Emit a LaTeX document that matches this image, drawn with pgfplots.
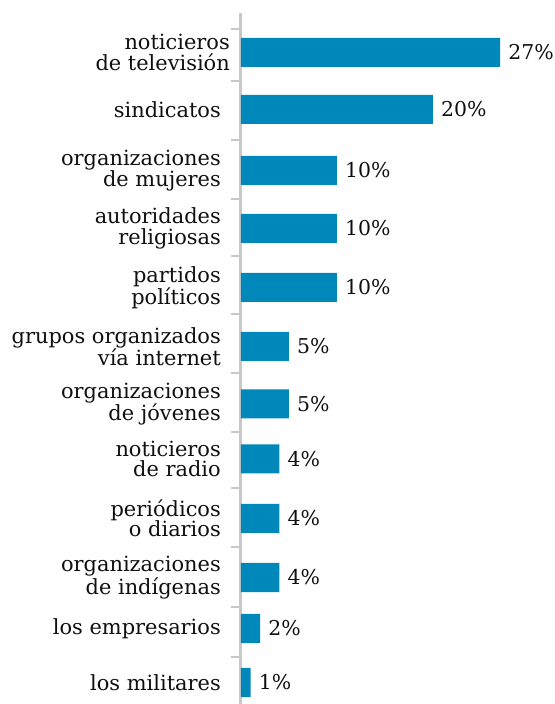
\documentclass[border=0pt]{standalone}
\usepackage{pgfplots}
\pgfplotsset{compat=1.18}
\usepackage{fontspec}
\setmainfont{DejaVu Serif}
\definecolor{barc}{RGB}{0,136,187}
\definecolor{axc}{RGB}{200,200,200}
\definecolor{txt}{RGB}{15,15,15}
\begin{document}
\begin{tikzpicture}
\useasboundingbox (-241bp,0bp) rectangle (314bp,704bp);
\begin{axis}[
  x=9.6bp, y=1bp,
  xmin=0, xmax=32.7, ymin=0, ymax=691,
  hide x axis,
  axis y line*=left,
  y axis line style={draw=axc, line width=3bp, -},
  tick style={draw=axc, line width=2bp},
  major tick length=0pt,
  ytick={651.5,594.5,533.5,475.5,416.5,357.5,300,245,185.5,126.5,75.5,21.5},
  yticklabels={{noticieros\hspace*{-9bp}\\de televisión\hspace*{-9bp}},
    sindicatos,
    {organizaciones\\de mujeres},
    {autoridades\\religiosas},
    {partidos\\políticos},
    {grupos organizados\\vía internet},
    {organizaciones\\de jóvenes},
    {noticieros\\de radio},
    {periódicos\\o diarios},
    {organizaciones\\de indígenas},
    los empresarios,
    los militares},
  yticklabel style={align=right, font=\fontsize{21}{20.5}\selectfont, text=txt, inner sep=0pt, xshift=-20bp},
  extra y ticks={675,623,564,505,448,390,331,272,216,157,97,47},
  extra y tick labels={},
  extra tick style={major tick length=10bp, tick align=outside},
  clip=false,
]
\addplot[xbar, bar width=29bp, fill=barc, draw=none,
  point meta=x,
  nodes near coords={\pgfmathprintnumber{\pgfplotspointmeta}\%},
  nodes near coords style={font=\fontsize{20.5}{21}\selectfont, text=txt, anchor=west, inner sep=0pt, xshift=8bp,
    /pgf/number format/assume math mode=true}]
  table {
x y
27 651.5
20 594.5
10 533.5
10 475.5
10 416.5
5 357.5
5 300
4 245
4 185.5
4 126.5
2 75.5
1 21.5
};
\end{axis}
\end{tikzpicture}
\end{document}
